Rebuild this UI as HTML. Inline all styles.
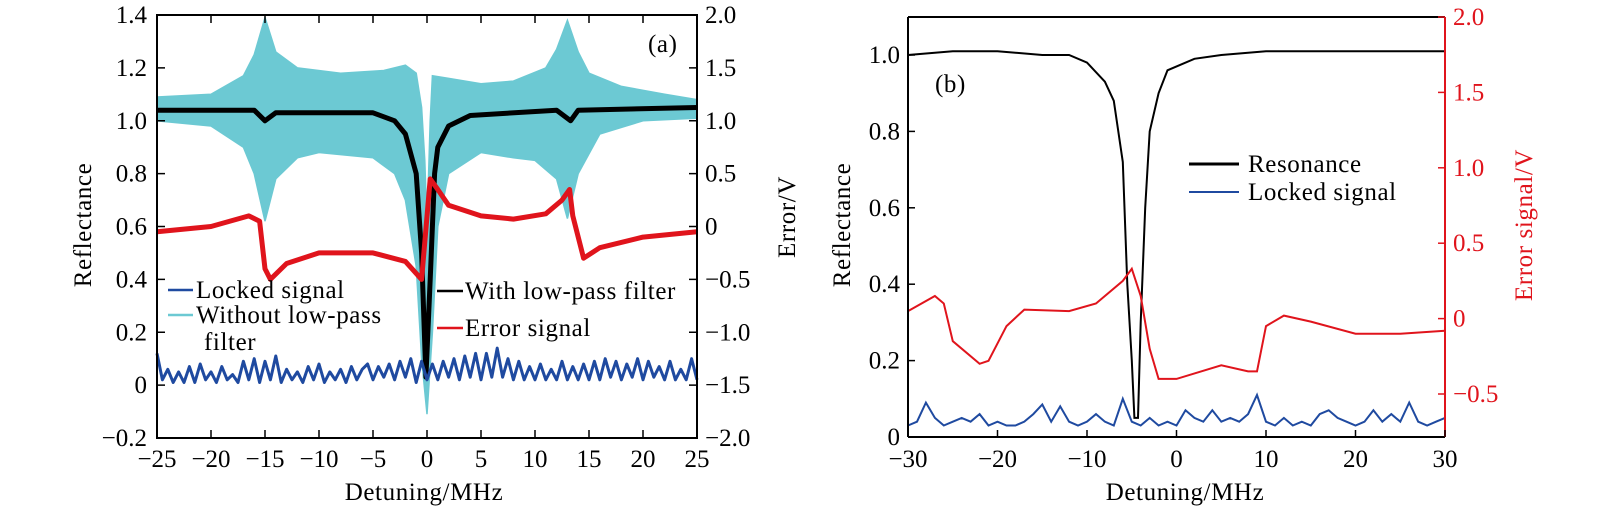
<!DOCTYPE html>
<html><head><meta charset="utf-8"><style>
html,body{margin:0;padding:0;background:#fff;width:1600px;height:508px;overflow:hidden}
svg text{font-family:"Liberation Serif",serif}
</style></head><body>
<svg id="chart" width="1600" height="508" viewBox="0 0 1600 508" xmlns="http://www.w3.org/2000/svg" style="position:absolute;left:0;top:0"></svg>
<script>
// ---------- Panel (a) data ----------
const aCyanUpX=[-25,-20,-17,-16,-15,-14,-12,-8,-4,-2,-1,-0.5,-0.2,0,0.3,0.5,2,5,8,11,12,13,14,15,18,22,25];
const aCyanUp=[1.09,1.10,1.17,1.25,1.39,1.26,1.20,1.18,1.19,1.21,1.18,1.05,0.85,0.6,1.0,1.17,1.16,1.14,1.15,1.20,1.27,1.38,1.26,1.18,1.13,1.10,1.08];
const aCyanLoX=[-25,-20,-17,-16,-15,-14,-12,-10,-5,-3,-2,-1,-0.5,0,0.5,1,2,5,8,10,12,13,14,16,20,25];
const aCyanLo=[1.0,0.98,0.90,0.80,0.62,0.78,0.86,0.88,0.86,0.80,0.70,0.45,0.10,-0.11,0.20,0.60,0.80,0.88,0.86,0.85,0.78,0.63,0.80,0.95,1.0,1.01];
const aBlackX=[-25,-16,-15,-14,-5,-3,-2,-1,-0.5,-0.1,0.3,0.7,1,2,4,12,13.3,14,25];
const aBlack=[1.04,1.04,1.0,1.03,1.03,1.0,0.95,0.80,0.50,0.03,0.40,0.80,0.90,0.98,1.02,1.04,1.0,1.04,1.05];
const aRedX=[-25,-20,-16.5,-15.5,-15,-14.5,-13,-10,-5,-2,-0.5,0.3,1,2,5,8,11,12.5,13.2,13.5,14.5,16,20,25];
const aRed=[-0.05,0.0,0.10,0.05,-0.40,-0.50,-0.35,-0.25,-0.25,-0.33,-0.50,0.45,0.35,0.20,0.10,0.07,0.12,0.25,0.35,0.10,-0.30,-0.20,-0.10,-0.05];
const aBlue=[0.12,0.02,0.06,0.01,0.05,0.01,0.07,0.01,0.08,0.02,0.05,0.01,0.07,0.02,0.04,0.01,0.09,0.02,0.10,0.01,0.09,0.02,0.11,0.01,0.06,0.02,0.05,0.01,0.07,0.02,0.08,0.01,0.05,0.02,0.06,0.01,0.07,0.02,0.06,0.08,0.02,0.07,0.03,0.08,0.02,0.09,0.03,0.10,0.01,0.09,0.02,0.08,0.02,0.09,0.03,0.10,0.02,0.11,0.03,0.12,0.02,0.12,0.03,0.14,0.03,0.10,0.02,0.09,0.02,0.07,0.02,0.08,0.02,0.06,0.02,0.09,0.02,0.07,0.02,0.08,0.02,0.09,0.02,0.10,0.03,0.09,0.02,0.08,0.03,0.10,0.02,0.09,0.03,0.07,0.02,0.09,0.02,0.06,0.02,0.10,0.02];
const aXTicks=[-25,-20,-15,-10,-5,0,5,10,15,20,25];
const aYTicks=[-0.2,0,0.2,0.4,0.6,0.8,1.0,1.2,1.4];
const aYLabels=["\u22120.2","0","0.2","0.4","0.6","0.8","1.0","1.2","1.4"];
const aY2Ticks=[-2,-1.5,-1,-0.5,0,0.5,1,1.5,2];
const aY2Labels=["\u22122.0","\u22121.5","\u22121.0","\u22120.5","0","0.5","1.0","1.5","2.0"];
// ---------- Panel (b) data ----------
const bBlackX=[-30,-25,-20,-15,-12,-10,-8,-7,-6,-5.5,-5,-4.7,-4.3,-4,-3.5,-3,-2,-1,2,5,10,20,30];
const bBlack=[1.0,1.01,1.01,1.0,1.0,0.98,0.93,0.88,0.72,0.40,0.20,0.05,0.05,0.30,0.60,0.80,0.90,0.96,0.99,1.0,1.01,1.01,1.01];
const bRedX=[-30,-27,-26,-25,-22,-21,-19,-17,-12,-9,-6,-5,-4,-3,-2,0,5,8,9,10,12,15,20,25,30];
const bRed=[0.05,0.15,0.10,-0.15,-0.30,-0.28,-0.05,0.06,0.05,0.10,0.25,0.33,0.15,-0.20,-0.40,-0.40,-0.31,-0.35,-0.35,-0.05,0.02,-0.02,-0.10,-0.10,-0.08];
const bBlue=[0.03,0.04,0.09,0.05,0.03,0.04,0.05,0.04,0.06,0.03,0.04,0.03,0.03,0.04,0.06,0.085,0.04,0.08,0.04,0.03,0.04,0.06,0.04,0.03,0.10,0.04,0.03,0.05,0.03,0.04,0.03,0.07,0.05,0.04,0.07,0.04,0.05,0.04,0.06,0.11,0.04,0.03,0.05,0.03,0.04,0.03,0.06,0.07,0.05,0.04,0.03,0.04,0.07,0.04,0.06,0.04,0.09,0.04,0.03,0.04,0.05];
const bXTicks=[-30,-20,-10,0,10,20,30];
const bXLabels=["\u221230","\u221220","\u221210","0","10","20","30"];
const bYTicks=[0,0.2,0.4,0.6,0.8,1.0];
const bYLabels=["0","0.2","0.4","0.6","0.8","1.0"];
const bY2Ticks=[-0.5,0,0.5,1,1.5,2];
const bY2Labels=["\u22120.5","0","0.5","1.0","1.5","2.0"];

const NS="http://www.w3.org/2000/svg";
const svg=document.getElementById('chart');
function mk(tag,attrs,parent){const e=document.createElementNS(NS,tag);for(const k in attrs)e.setAttribute(k,attrs[k]);(parent||svg).appendChild(e);return e;}
function lin(d0,d1,r0,r1){return v=>r0+(v-d0)/(d1-d0)*(r1-r0);}
function pts(xs,ys,sx,sy){return xs.map((x,i)=>sx(x).toFixed(1)+','+sy(ys[i]).toFixed(1)).join(' ');}
const FS=25;

// ===== Panel A =====
const AL=157,AR=697,AT=15,AB=438;
const ax=lin(-25,25,AL,AR), ay=lin(-0.2,1.4,AB,AT), ay2=lin(-2,2,AB,AT);
const gA=mk('g',{});


const bandPts=pts(aCyanUpX,aCyanUp,ax,ay)+' '+aCyanLoX.map((x,i)=>ax(x).toFixed(1)+','+ay(aCyanLo[i]).toFixed(1)).reverse().join(' ');
const cy=mk('polygon',{points:bandPts,fill:'#6cc9d3',stroke:'#6cc9d3','stroke-width':1.5},gA);


const bl=mk('polyline',{points:pts(aBlackX,aBlack,ax,ay),fill:'none',stroke:'#000','stroke-width':5,'stroke-linejoin':'round'},gA);


const rd=mk('polyline',{points:pts(aRedX,aRed,ax,ay2),fill:'none',stroke:'#e0141c','stroke-width':5,'stroke-linejoin':'round'},gA);


const aBX=aBlue.map((v,i)=>-25+i*0.5);
const bu=mk('polyline',{points:pts(aBX,aBlue,ax,ay),fill:'none',stroke:'#1f4aa0','stroke-width':3,'stroke-linejoin':'round'},gA);


const fa=mk('rect',{x:AL,y:AT,width:AR-AL,height:AB-AT,fill:'none',stroke:'#000','stroke-width':2},gA);


aXTicks.forEach(t=>{const x=ax(t);mk('line',{x1:x,x2:x,y1:AB,y2:AB-8,stroke:'#000','stroke-width':1.5},gA);mk('line',{x1:x,x2:x,y1:AT,y2:AT+8,stroke:'#000','stroke-width':1.5},gA);
 const tx=mk('text',{x:x,y:467,'font-size':FS,'text-anchor':'middle'},gA);tx.textContent=t<0?'\u2212'+(-t):String(t);
 
 });
aYTicks.forEach((t,i)=>{const y=ay(t);mk('line',{x1:AL,x2:AL+8,y1:y,y2:y,stroke:'#000','stroke-width':1.5},gA);
 const tx=mk('text',{x:147,y:y+8,'font-size':FS,'text-anchor':'end'},gA);tx.textContent=aYLabels[i];
 
 });
aY2Ticks.forEach((t,i)=>{const y=ay2(t);mk('line',{x1:AR-8,x2:AR,y1:y,y2:y,stroke:'#000','stroke-width':1.5},gA);
 const tx=mk('text',{x:705,y:y+8,'font-size':FS},gA);tx.textContent=aY2Labels[i];
 
 });

// ===== Panel B =====
const BL=908,BR=1445,BT=17,BB=437;
const bx=lin(-30,30,BL,BR), by=lin(0,1.0,BB,55), by2=lin(-0.5,2.0,394,BT);
const gB=mk('g',{});


const bbl=mk('polyline',{points:pts(bBlackX,bBlack,bx,by),fill:'none',stroke:'#000','stroke-width':2},gB);


const brd=mk('polyline',{points:pts(bRedX,bRed,bx,by2),fill:'none',stroke:'#e0141c','stroke-width':2},gB);


const bBX=bBlue.map((v,i)=>-30+i);
const bbu=mk('polyline',{points:pts(bBX,bBlue,bx,by),fill:'none',stroke:'#1f4aa0','stroke-width':2},gB);


mk('line',{x1:BL,x2:BR,y1:BT,y2:BT,stroke:'#000','stroke-width':2},gB);
mk('line',{x1:BL,x2:BR,y1:BB,y2:BB,stroke:'#000','stroke-width':2},gB);
mk('line',{x1:BL,x2:BL,y1:BT,y2:BB,stroke:'#000','stroke-width':2},gB);
mk('line',{x1:BR,x2:BR,y1:BT,y2:BB,stroke:'#e0141c','stroke-width':2},gB);
bXTicks.forEach((t,i)=>{const x=bx(t);mk('line',{x1:x,x2:x,y1:BB,y2:BB-7,stroke:'#000','stroke-width':1.5},gB);
 const tx=mk('text',{x:x,y:467,'font-size':FS,'text-anchor':'middle'},gB);tx.textContent=bXLabels[i];
 
 });
bYTicks.forEach((t,i)=>{const y=by(t);mk('line',{x1:BL,x2:BL+7,y1:y,y2:y,stroke:'#000','stroke-width':1.5},gB);
 const tx=mk('text',{x:900,y:y+8,'font-size':FS,'text-anchor':'end'},gB);tx.textContent=bYLabels[i];
 
 });
bY2Ticks.forEach((t,i)=>{const y=by2(t);mk('line',{x1:BR-7,x2:BR,y1:y,y2:y,stroke:'#e0141c','stroke-width':1.5},gB);
 const tx=mk('text',{x:1453,y:y+8,'font-size':FS,fill:'#e0141c'},gB);tx.textContent=bY2Labels[i];
 
 });
</script>
<svg width="1600" height="508" style="position:absolute;left:0;top:0">
<g font-family="Liberation Serif, serif" font-size="25" letter-spacing="0.6">
<text transform="translate(91,225) rotate(-90)" text-anchor="middle">Reflectance</text>
<text transform="translate(795,217) rotate(-90)" text-anchor="middle">Error/V</text>
<text x="424" y="500" text-anchor="middle">Detuning/MHz</text>
<text x="648" y="52">(a)</text>
<line x1="168" y1="290" x2="193" y2="290" stroke="#1f4aa0" stroke-width="2.5"/>
<text x="196" y="298">Locked signal</text>
<line x1="168" y1="315" x2="193" y2="315" stroke="#6cc9d3" stroke-width="2.5"/>
<text x="196" y="323">Without low-pass</text>
<text x="204" y="350">filter</text>
<line x1="437" y1="291" x2="463" y2="291" stroke="#000" stroke-width="2.5"/>
<text x="465" y="299">With low-pass filter</text>
<line x1="437" y1="328" x2="463" y2="328" stroke="#e0141c" stroke-width="2.5"/>
<text x="465" y="336">Error signal</text>

<text transform="translate(850,225) rotate(-90)" text-anchor="middle">Reflectance</text>
<text transform="translate(1532,225) rotate(-90)" text-anchor="middle" fill="#e0141c">Error signal/V</text>
<text x="1185" y="500" text-anchor="middle">Detuning/MHz</text>
<text x="935" y="92">(b)</text>
<line x1="1189" y1="164" x2="1239" y2="164" stroke="#000" stroke-width="3"/>
<text x="1248" y="172">Resonance</text>
<line x1="1189" y1="192" x2="1239" y2="192" stroke="#1f4aa0" stroke-width="2"/>
<text x="1248" y="200">Locked signal</text>
</g>
</svg>
</body></html>
